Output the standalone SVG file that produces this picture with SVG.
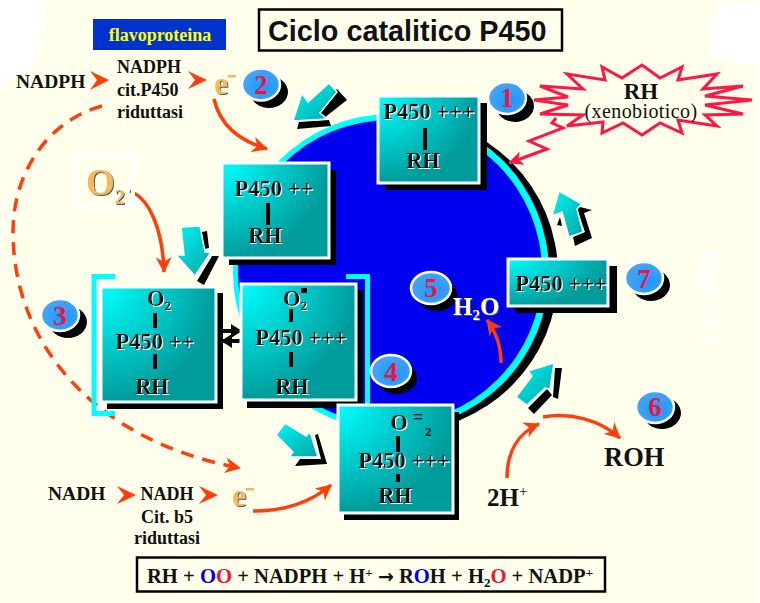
<svg xmlns="http://www.w3.org/2000/svg" width="760" height="603" viewBox="0 0 760 603">
<style>
text{font-family:"Liberation Serif","Times New Roman",serif;font-weight:bold;fill:#111}
.c{text-anchor:middle}
.bx{fill:url(#teal);stroke:#fff;stroke-width:3}
.sh{fill:#000}
.bar{stroke:#000;stroke-width:4;fill:none}
.lab{font-size:22.5px;filter:url(#glow)}
.sub{font-size:13px}
.curve{fill:none;stroke:#FF3D0D;stroke-width:3.5}
.arr{fill:url(#teal2);stroke:#fff;stroke-width:1.5}
.badge{fill:url(#blue);stroke:#fff;stroke-width:2.5}
.num{font-size:27px;fill:#F0143C;text-anchor:middle}
.side{font-size:18px}
.br{fill:none;stroke:#00FFFF;stroke-width:5}
.gold{fill:#F5B860;filter:url(#dark)}
</style>
<defs>
<radialGradient id="teal" cx="0" cy="0" r="1"><stop offset="0" stop-color="#00FFFF"/><stop offset="1" stop-color="#009C9C"/></radialGradient>
<linearGradient id="teal2" x1="0" y1="0" x2="1" y2="1"><stop offset="0" stop-color="#00F5F5"/><stop offset="1" stop-color="#00A5A5"/></linearGradient>
<radialGradient id="blue" cx=".6" cy=".6" r=".7"><stop offset="0" stop-color="#1E96FF"/><stop offset="1" stop-color="#4CA8F0"/></radialGradient>
<filter id="glow" x="-10%" y="-10%" width="120%" height="120%"><feDropShadow dx="1" dy="1" stdDeviation="0.2" flood-color="#fff"/></filter>
<filter id="dark" x="-10%" y="-10%" width="120%" height="120%"><feDropShadow dx="1" dy="1" stdDeviation="0.3" flood-color="#555"/></filter>
<marker id="ah" markerUnits="userSpaceOnUse" markerWidth="18" markerHeight="16" refX="15" refY="8" orient="auto"><path d="M0,0L16,8L0,16L5,8Z" fill="#FF3D0D"/></marker>
<marker id="ahr" markerUnits="userSpaceOnUse" markerWidth="18" markerHeight="14" refX="14" refY="7" orient="auto"><path d="M0,0L15,7L0,14L4,7Z" fill="#FF1744"/></marker>
<marker id="ahk" markerUnits="userSpaceOnUse" markerWidth="12" markerHeight="14" refX="10" refY="7" orient="auto"><path d="M0,0L11,7L0,14Z" fill="#000"/></marker>
</defs>
<rect width="760" height="603" fill="#FFFFEB"/>
<rect x="756" width="4" height="603" fill="#fff"/>
<path d="M0,0H36L44,8L35,64L0,87Z" fill="#fff"/>
<path d="M727,3H756V63L747,65L712,58Q706,40 708,28Q712,12 727,3Z" fill="#fff"/>
<text transform="translate(703,250) rotate(90)" font-size="26" style="fill:#fff">Figura 1</text>

<g id="title"><rect x="259" y="9.500" width="303" height="41" fill="#FFFFEB" stroke="#000" stroke-width="2.500"/><text x="268" y="41" style="font-family:'Liberation Sans',Arial,sans-serif;font-size:28.800px">Ciclo catalitico P450</text></g>

<g id="cycle"><circle cx="400" cy="274" r="158" fill="#000"/><circle cx="391" cy="272" r="158" fill="#00FFFF"/><circle cx="390" cy="272" r="152" fill="#0000F0"/></g>

<g id="flavoproteina"><rect x="93" y="19" width="133" height="31" fill="#0033CC"/><text class="c" x="160" y="41" font-size="18" style="fill:#FFFF00">flavoproteina</text></g>

<g id="connectors">
<path d="M90,71L109,80L90,90L97,80Z M188,71L207,80L188,89L195,80Z M117,486L136,495L117,504L124,495Z M199,486L218,495L199,504L206,495Z" fill="#FF3D0D"/>
<path class="curve" marker-end="url(#ah)" d="M214,99C220,125 238,140 267,149"/>
<path class="curve" marker-end="url(#ah)" d="M130,191C152,200 163,235 164,272"/>
<path class="curve" stroke-dasharray="13 9" marker-end="url(#ah)" d="M102,106C50,120 13,170 13,232C13,340 90,440 240,468"/>
<path class="curve" marker-end="url(#ah)" d="M253,511C285,511 310,503 331,485"/>
<path class="curve" marker-end="url(#ah)" d="M507,478C507,452 518,433 539,424"/>
<path class="curve" marker-end="url(#ah)" d="M543,417C570,412 600,420 620,438"/>
<path class="curve" marker-end="url(#ah)" d="M501,363C501,345 496,332 487,320"/>
<path fill="none" stroke="#FF1744" stroke-width="3" marker-end="url(#ahr)" d="M556,118L552,123L563,128L529,141L547,149L509,163"/>
<path stroke="#000" stroke-width="4" fill="none" marker-end="url(#ahk)" d="M222,331H241"/>
<path stroke="#000" stroke-width="4" fill="none" marker-end="url(#ahk)" d="M241,341H222"/>
</g>

<g id="block-arrows">
<g id="arrow-a"><path class="sh" d="M337,89L347,100L324,118L316,111Z M299,122L329,120L331,126L297,129Z"/><path class="arr" d="M293,121L302,93L308,102L329,83L337,92L320,113L327,119Z"/></g>
<g id="arrow-b"><path class="sh" d="M202,232L207,231L209,248L204,249Z M212,256L219,256L204,285L197,281Z"/><path class="arr" d="M181,227L200,226L205,252L211,252L195,276L176,255L184,255Z"/></g>
<g id="arrow-c"><path class="sh" d="M315,435L318,434L327,464L295,466L300,459L321,459Z"/><path class="arr" d="M285,423L276,435L293,452L289,457L318,457L310,432L306,436Z"/></g>
<g id="arrow-d"><path class="sh" d="M555,368L562,368L558,399L553,397Z M528,408L547,389L552,395L534,414Z"/><path class="arr" d="M554,363L528,371L532,376L516,397L527,405L545,388L550,389Z"/></g>
<g id="arrow-e"><path class="sh" d="M580,207L592,210L584,213L592,238L575,246L573,237L585,232L577,209Z M557,225L560,217L562,226Z"/><path class="arr" d="M559,191L552,216L562,212L569,237L583,232L577,209L582,204Z"/></g>
</g>

<g id="bracket-left"><path class="br" d="M115,276.500H94V413.500H115"/></g>

<g id="node-p450-1"><rect class="sh" x="385" y="103" width="102" height="87"/><rect class="bx" x="378" y="96" width="101" height="87"/><path class="bar" d="M425,128V150"/><text class="lab c" x="429" y="119">P450 +++</text><text class="lab c" x="423" y="168">RH</text></g>

<g id="node-p450-2"><rect class="sh" x="229" y="170" width="107" height="95"/><rect class="bx" x="222" y="163" width="107" height="95"/><path class="bar" d="M268,203V225"/><text class="lab c" x="274" y="196">P450 ++</text><text class="lab c" x="265" y="243">RH</text></g>

<g id="node-p450-3"><rect class="sh" x="107" y="293" width="116" height="116"/><rect class="bx" x="101" y="287" width="115" height="115"/><path class="bar" d="M155,313V328M155,354V369"/><text class="lab c" x="159" y="306">O<tspan class="sub" dy="4">2</tspan></text><text class="lab c" x="155" y="349">P450 ++</text><text class="lab c" x="152" y="394">RH</text></g>

<g id="node-p450-4"><rect class="sh" x="247" y="290" width="116" height="118"/><rect class="bx" x="241" y="284" width="115" height="116"/><path class="bar" d="M291,309V322M291,352V367"/><rect x="301" y="288" width="6" height="5" fill="#000"/><text class="lab c" x="295" y="306">O<tspan class="sub" dy="4">2</tspan></text><text class="lab c" x="301" y="345">P450 +++</text><text class="lab c" x="292" y="394">RH</text></g>

<g id="bracket-right"><path class="br" d="M346,276.500H367.500V412"/></g>

<g id="node-p450-5"><rect class="sh" x="344" y="412" width="115" height="108"/><rect class="bx" x="338" y="405" width="115" height="108"/><path class="bar" d="M398,436V452M398,474V482"/><text class="lab c" x="399" y="430">O</text><text x="413" y="423" font-size="18">=</text><text x="425" y="436" class="sub">2</text><text class="lab c" x="404" y="468">P450 +++</text><text class="lab c" x="395" y="503">RH</text></g>

<g id="node-p450-7"><rect class="sh" x="515" y="266" width="102" height="47"/><rect class="bx" x="508" y="259" width="100" height="47"/><text class="lab c" x="561" y="291">P450 +++</text></g>

<g id="badge-1"><ellipse class="sh" cx="515" cy="106" rx="19" ry="16"/><ellipse class="badge" cx="507" cy="98" rx="19" ry="16"/><text class="num" x="507" y="107">1</text></g>
<g id="badge-2"><ellipse class="sh" cx="269" cy="92" rx="19" ry="16"/><ellipse class="badge" cx="261" cy="84.500" rx="19" ry="16"/><text class="num" x="261" y="94">2</text></g>
<g id="badge-3"><ellipse class="sh" cx="68" cy="322" rx="19" ry="16"/><ellipse class="badge" cx="60" cy="315" rx="19" ry="16"/><text class="num" x="60" y="325">3</text></g>
<g id="badge-4"><ellipse class="sh" cx="397" cy="378" rx="20" ry="16"/><ellipse class="badge" cx="391" cy="371" rx="20" ry="16"/><text class="num" x="391" y="381">4</text></g>
<g id="badge-5"><ellipse class="sh" cx="437" cy="295" rx="20" ry="16"/><ellipse class="badge" cx="431" cy="288" rx="20" ry="16"/><text class="num" x="431" y="297">5</text></g>
<g id="badge-6"><ellipse class="sh" cx="662" cy="413" rx="19" ry="16"/><ellipse class="badge" cx="655" cy="407" rx="19" ry="16"/><text class="num" x="655" y="416">6</text></g>
<g id="badge-7"><ellipse class="sh" cx="651" cy="285" rx="19" ry="16"/><ellipse class="badge" cx="644" cy="278" rx="19" ry="16"/><text class="num" x="644" y="288">7</text></g>

<g id="rh-burst"><path fill="#FFFFEB" stroke="#FF1744" stroke-width="3" d="M752,100L705,96L743,86L703,89L717,74L678,80L682,67L660,78L642,65L622,78L602,67L605,80L567,74L583,89L540,86L568,97L534,100L568,105L540,114L583,115L567,126L603,122L602,133L623,123L642,135L660,123L682,133L678,120L717,126L705,115L743,114L705,105Z"/><text class="c" x="641" y="99" font-size="23">RH</text><text class="c" x="641" y="118" font-size="20" letter-spacing="0.4" style="font-weight:normal">(xenobiotico)</text></g>

<g id="nadph"><text x="16" y="88" font-size="19.500">NADPH</text><text class="side" x="117" y="73">NADPH</text><text class="side" x="117" y="96">cit.P450</text><text class="side" x="117" y="118">riduttasi</text></g>
<g id="e1"><text class="gold" x="214" y="94" font-size="32">e</text><rect x="228" y="75" width="8" height="2.500" fill="#F5B860"/></g>
<g id="o2"><rect x="75" y="155" width="58" height="52" fill="none" stroke="#fff" stroke-width="4"/><text class="gold" x="86" y="195" font-size="37">O<tspan font-size="20" dy="9">2</tspan></text></g>
<g id="nadh"><text x="48" y="500" font-size="19.500">NADH</text><text class="side c" x="167" y="500">NADH</text><text class="side c" x="167" y="523">Cit. b5</text><text class="side c" x="167" y="544">riduttasi</text></g>
<g id="e2"><text class="gold" x="232" y="506" font-size="32">e</text><rect x="246" y="488" width="8" height="2.500" fill="#F5B860"/></g>
<g id="water"><text x="453" y="315" font-size="25" style="fill:#fff;filter:url(#dark)">H<tspan font-size="15" dy="5">2</tspan><tspan dy="-5">O</tspan></text></g>
<g id="roh"><text x="604" y="466" font-size="26.500">ROH</text></g>
<g id="protons"><text x="487" y="506" font-size="25">2H<tspan font-size="15" dy="-10" style="font-weight:normal">+</tspan></text></g>

<g id="equation"><rect x="137" y="557.500" width="468" height="34" fill="#FFFFEB" stroke="#000" stroke-width="2.500"/><text x="147" y="583" font-size="20.600">RH + <tspan style="fill:#0000E0">O</tspan><tspan style="fill:#F0143C">O</tspan> + NADPH + H<tspan font-size="13" dy="-6">+</tspan><tspan dy="6"> </tspan><tspan style="font-family:'DejaVu Sans',sans-serif" font-size="19">→</tspan> R<tspan style="fill:#0000E0">O</tspan>H + H<tspan font-size="13" dy="4">2</tspan><tspan dy="-4" style="fill:#F0143C">O</tspan> + NADP<tspan font-size="13" dy="-6">+</tspan></text></g>
</svg>
